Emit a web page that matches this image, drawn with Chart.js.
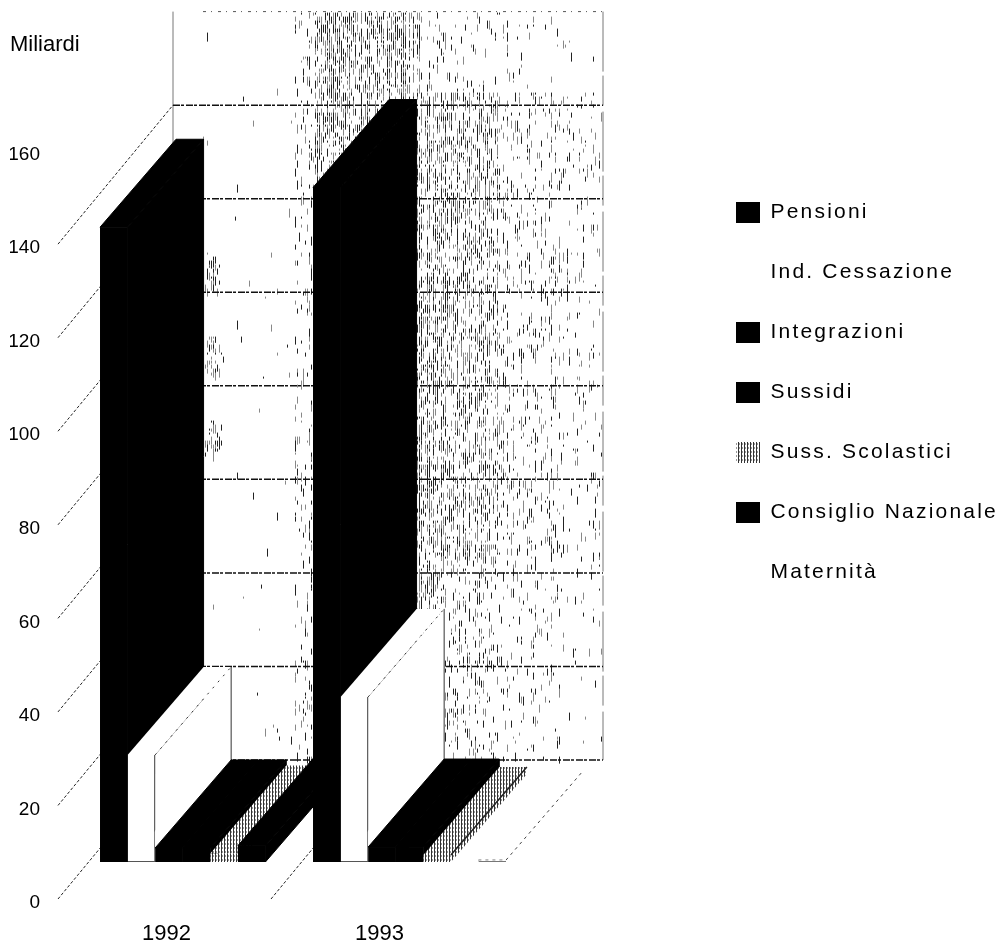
<!DOCTYPE html>
<html>
<head>
<meta charset="utf-8">
<style>html,body{margin:0;padding:0;background:#fff}canvas{display:block}</style>
<script src="https://cdn.jsdelivr.net/npm/chart.js@4/dist/chart.umd.min.js"></script>
</head>
<body>
<canvas id="c" width="1000" height="943"></canvas>
<script>
const categories = ['1992', '1993', ''];
const pensioni = [135.7, 144.2];
const indCessazione = [22.9, 35.3];
const integrazioni = [3, 3.2];
const sussidi = [3, 3.2];
const sussScolastici = [1.8, 1.5];
const consiglioNazionale = [3.5, 0];
const maternita = [0, 0.4];
const seriesNames = ['Pensioni', 'Ind. Cessazione', 'Integrazioni', 'Sussidi', 'Suss. Scolastici', 'Consiglio Nazionale', 'Maternità'];
const yTicksMax = 160;
const yMax = 178;

const FONT = '"Liberation Sans", Arial, sans-serif';
const INK = '#000000';

const canvas = document.getElementById('c');
const ctx = canvas.getContext('2d');

function hatchPattern() {
  const p = document.createElement('canvas');
  p.width = 3; p.height = 4;
  const g = p.getContext('2d');
  g.fillStyle = '#fff'; g.fillRect(0, 0, 3, 4);
  g.fillStyle = '#333'; g.fillRect(0, 0, 1, 4);
  g.fillStyle = '#999'; g.fillRect(1, 0, 1, 2);
  return ctx.createPattern(p, 'repeat');
}
const hatch = hatchPattern();

const fills = [INK, '#ffffff', INK, INK, hatch, INK, '#ffffff'];
const seriesData = [pensioni, indCessazione, integrazioni, sussidi, sussScolastici, consiglioNazionale, maternita];

// depth of the bar plane, of the bars and of the back wall, in pixels
const PLANE = { dx: 32, dy: -37 };
const BAR = { dx: 76, dy: -88 };
const WALL = { dx: 115, dy: -139 };

// deterministic scan-like speckle for the back wall
function speckle(g, left, right, top, bottom) {
  let s = 12345;
  const next = () => { s = (s * 1664525 + 1013904223) % 4294967296; return s / 4294967296; };
  const col = {};
  for (let x = left; x < right; x += 2) col[x] = 0.35 + next() * 1.6;
  for (let x = left; x < right; x += 2) {
    for (let y = top; y < bottom; y += 4) {
      let d;
      if (x < 295) d = 0.004;
      else if (x < 310) d = 0.09;
      else if (x < 405) d = 0.36;
      else if (x < 500) d = 0.32;
      else if (x < 560) d = 0.15;
      else d = 0.06;
      if (y < 90 && x > 420) d *= 0.25;
      if (y > 560 && x > 440) d *= 0.5;
      if (x > 204 && x < 222 && ((y > 255 && y < 290) || (y > 335 && y < 375) || (y > 418 && y < 455))) d = 0.22;
      const r1 = next(), r2 = next(), r3 = next();
      if (r1 < d * col[x]) {
        g.fillStyle = r3 < 0.5 ? '#222' : '#888';
        g.fillRect(x, y, 1, 2 + Math.floor(r2 * 8));
      }
    }
  }
}

const depthPlugin = {
  id: 'depth',
  beforeUpdate(chart) {
    const lg = chart.legend;
    if (lg && !lg._wrapped) {
      lg._wrapped = true;
      const f = lg.fit;
      lg.fit = function () { f.call(this); this.width = 303; };
      const d = lg.draw;
      lg.draw = function () {
        const c = this.ctx;
        c.save();
        c.letterSpacing = '2.2px';
        c.translate(0, 163);
        d.call(this);
        c.restore();
      };
    }
  },
  beforeDatasetsDraw(chart) {
    const g = chart.ctx, xs = chart.scales.x, ys = chart.scales.y;
    const step = xs.getPixelForValue(1) - xs.getPixelForValue(0);
    const left = xs.left;
    const wallL = left + WALL.dx;
    const wallR = left + 2 * step + WALL.dx + 4;
    const wy = v => ys.getPixelForValue(v) + WALL.dy;

    g.save();
    // back wall
    speckle(g, wallL, wallR, wy(yTicksMax) + 1, wy(0));
    g.lineWidth = 1;
    g.strokeStyle = '#777';
    g.beginPath(); g.moveTo(wallL, wy(yTicksMax)); g.lineTo(wallL, wy(100)); g.stroke();
    g.setLineDash([60, 4, 30, 6]);
    g.beginPath(); g.moveTo(wallR, wy(yTicksMax)); g.lineTo(wallR, wy(0)); g.stroke();

    // wall grid lines
    g.strokeStyle = '#111';
    g.lineWidth = 1.5;
    g.setLineDash([7, 1, 3, 2]);
    for (const t of ys.ticks) {
      if (t.value > 140) continue;
      g.beginPath(); g.moveTo(wallL, wy(t.value)); g.lineTo(wallR, wy(t.value)); g.stroke();
    }
    g.strokeStyle = '#555';
    g.lineWidth = 1;
    g.setLineDash([3, 5, 1, 6]);
    g.beginPath(); g.moveTo(wallL + 30, wy(yTicksMax)); g.lineTo(wallR, wy(yTicksMax)); g.stroke();

    // side wall lines
    g.strokeStyle = '#222';
    g.lineWidth = 1;
    g.setLineDash([3, 2]);
    for (const t of ys.ticks) {
      if (t.value > 140) continue;
      g.beginPath();
      g.moveTo(left, ys.getPixelForValue(t.value));
      g.lineTo(wallL, wy(t.value));
      g.stroke();
    }
    // floor divider between the two years
    g.beginPath();
    g.moveTo(left + step, ys.getPixelForValue(0));
    g.lineTo(left + step + WALL.dx, wy(0));
    g.stroke();
    g.setLineDash([]);

    // plane of the bars
    g.translate(PLANE.dx, PLANE.dy);

    // side and top faces
    for (let c = 0; c < 2; c++) {
      chart.data.datasets.forEach((ds, d) => {
        if (!(ds.data[c] > 0)) return;
        const bar = chart.getDatasetMeta(d).data[c];
        const L = bar.x - bar.width / 2, R = bar.x + bar.width / 2, T = bar.y, B = bar.base;
        const side = new Path2D();
        side.moveTo(R, T); side.lineTo(R + BAR.dx, T + BAR.dy);
        side.lineTo(R + BAR.dx, B + BAR.dy); side.lineTo(R, B); side.closePath();
        const top = new Path2D();
        top.moveTo(L, T); top.lineTo(R, T);
        top.lineTo(R + BAR.dx, T + BAR.dy); top.lineTo(L + BAR.dx, T + BAR.dy); top.closePath();
        g.fillStyle = fills[d];
        g.fill(side); g.fill(top);
        if (fills[d] === INK) {
          g.strokeStyle = INK; g.lineWidth = 1;
          g.stroke(side); g.stroke(top);
        }
        if (d === 1) {
          g.strokeStyle = '#333'; g.lineWidth = 1;
          g.beginPath(); g.moveTo(R + BAR.dx, T + BAR.dy); g.lineTo(R + BAR.dx, B + BAR.dy); g.stroke();
          g.setLineDash([2, 6]);
          g.beginPath(); g.moveTo(R, T); g.lineTo(R + BAR.dx, T + BAR.dy); g.stroke();
          g.setLineDash([]);
        } else if (d === 4) {
          g.strokeStyle = '#222'; g.lineWidth = 1.5;
          g.beginPath(); g.moveTo(R, T); g.lineTo(R + BAR.dx, T + BAR.dy); g.stroke();
        } else if (d === 6) {
          g.strokeStyle = '#444'; g.lineWidth = 1;
          g.setLineDash([3, 4]);
          g.beginPath(); g.moveTo(R, T); g.lineTo(R + BAR.dx, T + BAR.dy); g.stroke();
          g.beginPath(); g.moveTo(L, T); g.lineTo(R, T); g.stroke();
          g.setLineDash([]);
        }
      });
    }
    // leave the canvas shifted for the library's own front faces
  },
  afterDatasetsDraw(chart) {
    chart.ctx.restore();
  }
};

new Chart(ctx, {
  type: 'bar',
  plugins: [depthPlugin],
  data: {
    labels: categories,
    datasets: seriesNames.map((name, i) => ({
      label: name,
      data: seriesData[i],
      backgroundColor: fills[i],
      borderColor: i === 1 ? '#555' : (i === 6 ? '#777' : INK),
      borderWidth: (i === 1) ? { right: 1, bottom: 1 } : (i === 6 ? { bottom: 1 } : 0),
      borderSkipped: false,
      categoryPercentage: 0.906,
      barPercentage: 1,
      clip: false
    }))
  },
  options: {
    responsive: false,
    animation: false,
    devicePixelRatio: 1,
    layout: { padding: { left: 10, right: 0, top: 0, bottom: 0 } },
    scales: {
      x: {
        grid: { display: false, drawTicks: false },
        border: { display: false },
        afterFit(s) { s.height = 44; },
        ticks: {
          padding: 22, maxRotation: 0, autoSkip: false, labelOffset: 2,
          color: INK, font: { family: FONT, size: 22 }
        }
      },
      y: {
        min: 0, max: yMax,
        grid: { display: false, drawTicks: false },
        border: { display: false },
        afterFit(s) {
          s.width = 48;
          if (!s._shifted) {
            s._shifted = true;
            const dl = s.drawLabels;
            s.drawLabels = function (a) {
              const c = this.ctx;
              c.save(); c.translate(0, 4); dl.call(this, a); c.restore();
            };
          }
        },
        afterBuildTicks(s) { s.ticks = s.ticks.filter(t => t.value <= yTicksMax); },
        ticks: {
          stepSize: 20, padding: 18, autoSkip: false,
          color: INK, font: { family: FONT, size: 19 }
        }
      }
    },
    plugins: {
      tooltip: { enabled: false },
      title: {
        display: true, text: 'Miliardi', align: 'start', position: 'top',
        color: INK, font: { family: FONT, size: 22, weight: 'normal' },
        padding: { top: 32, bottom: 8 }
      },
      legend: {
        display: true, position: 'right', align: 'start',
        labels: {
          boxWidth: 24, boxHeight: 21, padding: 39,
          color: INK, font: { family: FONT, size: 21, lineHeight: 1.05 },
          generateLabels(chart) {
            return chart.data.datasets.map((ds, i) => ({
              text: ds.label, fillStyle: fills[i], strokeStyle: 'rgba(0,0,0,0)',
              lineWidth: 0, hidden: false, datasetIndex: i, fontColor: INK
            }));
          }
        }
      }
    }
  }
});
</script>
</body>
</html>
